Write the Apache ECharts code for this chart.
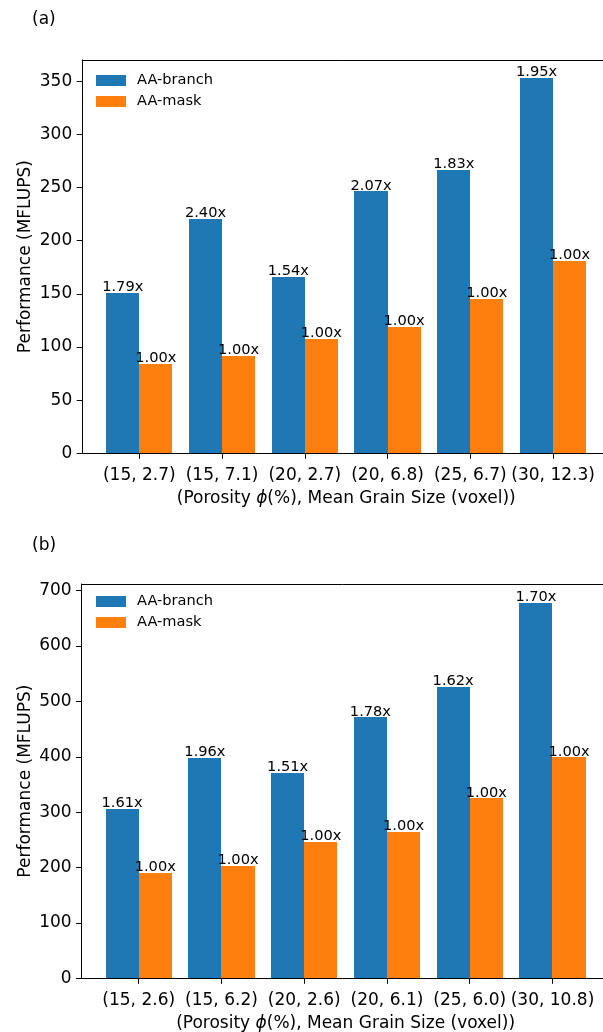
<!DOCTYPE html>
<html>
<head>
<meta charset="utf-8">
<script src="https://cdn.jsdelivr.net/npm/echarts@6/dist/echarts.min.js"></script>
<style>
  html, body { margin: 0; padding: 0; background: #fff; }
  #chart { width: 603px; height: 1032px; }
</style>
</head>
<body>
<div id="chart"></div>
<script>
// Panel (a)
const categoriesA = ['(15, 2.7)', '(15, 7.1)', '(20, 2.7)', '(20, 6.8)', '(25, 6.7)', '(30, 12.3)'];
const branchA = [151, 220.5, 166, 246.5, 266.5, 353];
const maskA = [84.3, 91.8, 107.8, 118.9, 145.5, 181];
const yTicksA = [0, 50, 100, 150, 200, 250, 300, 350];

// Panel (b)
const categoriesB = ['(15, 2.6)', '(15, 6.2)', '(20, 2.6)', '(20, 6.1)', '(25, 6.0)', '(30, 10.8)'];
const branchB = [306, 398, 371.5, 471, 526.5, 678];
const maskB = [190, 203, 246, 265, 325, 399];
const yTicksB = [0, 100, 200, 300, 400, 500, 600, 700];

const seriesNames = ['AA-branch', 'AA-mask'];
const colors = ['#1f77b4', '#ff7f0e'];
const FONT = 'DejaVu Sans';
const BAR_W = 0.4;
const X_MIN = -0.69, X_MAX = 5.69;
const X_TICKS = [0, 1, 2, 3, 4, 5];

const chart = echarts.init(document.getElementById('chart'), null, { renderer: 'canvas' });

// Bars are drawn in data units (width 0.4, offset ±0.2 around each category index),
// each topped with its speedup relative to AA-mask.
function makeBars(values, baseline, offset, color, gridIdx, name) {
  const data = values.map((v, i) => [i, v, v / baseline[i]]);
  return {
    type: 'custom',
    name: name,
    xAxisIndex: gridIdx * 2,
    yAxisIndex: gridIdx,
    itemStyle: { color: color },
    encode: { x: 0, y: 1 },
    data: data,
    renderItem: function (params, api) {
      const x = api.value(0), y = api.value(1), r = api.value(2);
      const p0 = api.coord([x + offset - BAR_W / 2, y]);
      const p1 = api.coord([x + offset + BAR_W / 2, 0]);
      const x0 = Math.round(p0[0]), x1 = Math.round(p1[0]);
      const y0 = Math.round(p0[1]), y1 = Math.round(p1[1]);
      return {
        type: 'group',
        children: [
          {
            type: 'rect',
            shape: { x: x0, y: y0, width: x1 - x0, height: y1 - y0 },
            style: { fill: color }
          },
          {
            type: 'text',
            z2: 10,
            style: {
              text: r.toFixed(2) + 'x',
              x: (p0[0] + p1[0]) / 2,
              y: p0[1] + 2,
              align: 'center',
              verticalAlign: 'bottom',
              fill: '#000',
              font: '14.6px "' + FONT + '"'
            }
          }
        ]
      };
    }
  };
}

function xAxisFor(gridIdx, cats) {
  return {
    type: 'value',
    gridIndex: gridIdx,
    min: X_MIN,
    max: X_MAX,
    name: '(Porosity {i|\u03D5}(%), Mean Grain Size (voxel))',
    nameLocation: 'middle',
    nameGap: 36.5,
    nameMoveOverlap: false,
    nameTextStyle: {
      color: '#000', fontSize: 17, fontFamily: FONT,
      rich: { i: { fontStyle: 'italic', fontSize: 17, fontFamily: FONT, color: '#000' } }
    },
    splitLine: { show: false },
    axisLine: { show: true, onZero: false, lineStyle: { color: '#000', width: 1 } },
    axisTick: { show: true, length: 5.5, lineStyle: { color: '#000' }, customValues: X_TICKS },
    axisLabel: {
      customValues: X_TICKS,
      formatter: v => cats[Math.round(v)],
      color: '#000', fontSize: 17, fontFamily: FONT, margin: 14
    }
  };
}

// Top spine of each panel
function topSpine(gridIdx) {
  return {
    type: 'value',
    gridIndex: gridIdx,
    position: 'top',
    min: X_MIN,
    max: X_MAX,
    splitLine: { show: false },
    axisLine: { show: true, onZero: false, lineStyle: { color: '#000', width: 1 } },
    axisTick: { show: false },
    axisLabel: { show: false }
  };
}

function yAxisFor(gridIdx, maxV, ticks) {
  return {
    type: 'value',
    gridIndex: gridIdx,
    min: 0,
    max: maxV,
    name: 'Performance (MFLUPS)',
    nameLocation: 'middle',
    nameGap: 48,
    nameMoveOverlap: false,
    nameTextStyle: { color: '#000', fontSize: 17, fontFamily: FONT },
    splitLine: { show: false },
    axisLine: { show: true, onZero: false, lineStyle: { color: '#000', width: 1 } },
    axisTick: { show: true, length: 5.5, lineStyle: { color: '#000' }, customValues: ticks },
    axisLabel: {
      customValues: ticks,
      color: '#000', fontSize: 17, fontFamily: FONT, margin: 10
    }
  };
}

function legendFor(top) {
  return {
    orient: 'vertical',
    left: 96,
    top: top,
    padding: 0,
    icon: 'rect',
    itemWidth: 30,
    itemHeight: 11,
    itemGap: 6,
    data: seriesNames,
    selectedMode: false,
    textStyle: { color: '#000', fontSize: 14.6, fontFamily: FONT, padding: [0, 0, 0, 6] }
  };
}

const option = {
  animation: false,
  backgroundColor: '#fff',
  title: [
    { text: '(a)', left: 32, top: 11.5, padding: 0, textStyle: { color: '#000', fontSize: 17, fontWeight: 'normal', fontFamily: FONT } },
    { text: '(b)', left: 32, top: 537, padding: 0, textStyle: { color: '#000', fontSize: 17, fontWeight: 'normal', fontFamily: FONT } }
  ],
  legend: [legendFor(73), legendFor(594)],
  grid: [
    { left: 82.2, top: 60, width: 528, height: 393.3, outerBoundsMode: 'none' },
    { left: 81.6, top: 584, width: 528, height: 394.3, outerBoundsMode: 'none' }
  ],
  xAxis: [xAxisFor(0, categoriesA), topSpine(0), xAxisFor(1, categoriesB), topSpine(1)],
  yAxis: [yAxisFor(0, 370, yTicksA), yAxisFor(1, 712, yTicksB)],
  series: [
    makeBars(branchA, maskA, -0.2, colors[0], 0, seriesNames[0]),
    makeBars(maskA, maskA, 0.2, colors[1], 0, seriesNames[1]),
    makeBars(branchB, maskB, -0.2, colors[0], 1, seriesNames[0]),
    makeBars(maskB, maskB, 0.2, colors[1], 1, seriesNames[1])
  ]
};

chart.setOption(option);
</script>
</body>
</html>
